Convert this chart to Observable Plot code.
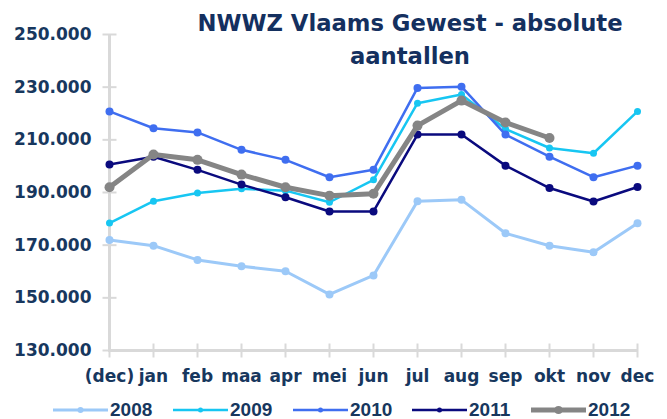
<!DOCTYPE html>
<html>
<head>
<meta charset="utf-8">
<script src="https://cdn.jsdelivr.net/npm/d3@7"></script>
<script src="https://cdn.jsdelivr.net/npm/@observablehq/plot@0.6"></script>
<style>
  html, body { margin: 0; padding: 0; background: #fff; }
  #wrap { position: relative; width: 667px; height: 419px; overflow: hidden; font-family: "DejaVu Sans", sans-serif; font-weight: bold; color: #17375E; }
  #chart { position: absolute; left: 0; top: 0; }
  #title { position: absolute; left: 160px; width: 500px; top: 7px; text-align: center; font-family: "DejaVu Sans", sans-serif; font-weight: bold; font-size: 22.7px; line-height: 33px; color: #14305F; }
  .leg { position: absolute; top: 400px; height: 19px; display: flex; align-items: center; font-family: "Liberation Sans", Arial, sans-serif; font-weight: 700; font-size: 19px; line-height: 19px; }
  .leg svg { margin-right: 2px; }
</style>
</head>
<body>
<div id="wrap">
  <div id="chart"></div>
  <div id="title">NWWZ Vlaams Gewest - absolute<br>aantallen</div>
  <div id="legend"></div>
</div>
<script>
const months = ["(dec)","jan","feb","maa","apr","mei","jun","jul","aug","sep","okt","nov","dec"];
const years = ["2008","2009","2010","2011","2012"];
const v2008 = [172000,169800,164400,162000,160100,151300,158500,186700,187200,174500,169800,167300,178300];
const v2009 = [178400,186700,189800,191400,190700,186300,194800,223900,227200,214100,206900,204900,220800];
const v2010 = [220800,214400,212800,206200,202400,195800,198600,229700,230200,212000,203600,195800,200200];
const v2011 = [200600,203600,198600,193000,188200,182800,182800,212000,212000,200200,191700,186600,192100];
const v2012 = [192000,204400,202400,196800,192000,188800,189500,215400,224900,216600,210700];
const yTicks = [130000,150000,170000,190000,210000,230000,250000];

const valuesByYear = {"2008": v2008, "2009": v2009, "2010": v2010, "2011": v2011, "2012": v2012};
const colors = {"2008": "#9CC9F8", "2009": "#17C6F2", "2010": "#3F6EF0", "2011": "#0A0A7E", "2012": "#858585"};
const widths = {"2008": 3, "2009": 2.5, "2010": 2.5, "2011": 2.5, "2012": 5};
const radii = {"2008": 4, "2009": 3.5, "2010": 4, "2011": 4, "2012": 5};
const legendRadii = {"2008": 3, "2009": 2.5, "2010": 2.5, "2011": 2.5, "2012": 4};

const rows = years.flatMap(y => valuesByYear[y].map((v, i) => ({year: y, month: months[i], value: v})));
const fmt = d => d3.format(",")(d).replace(/,/g, ".");

const hTick = {draw(ctx) { ctx.moveTo(-7, 0); ctx.lineTo(7, 0); }};
const vTick = {draw(ctx) { ctx.moveTo(0, -7); ctx.lineTo(0, 7); }};

const seriesMarks = years.flatMap(y => {
  const data = rows.filter(r => r.year === y);
  return [
    Plot.line(data, {x: "month", y: "value", stroke: colors[y], strokeWidth: widths[y]}),
    Plot.dot(data, {x: "month", y: "value", fill: colors[y], r: radii[y]})
  ];
});

const chart = Plot.plot({
  width: 667,
  height: 390,
  marginLeft: 108,
  marginRight: 30,
  marginTop: 34,
  marginBottom: 40,
  style: {fontFamily: "DejaVu Sans", fontWeight: "bold", fontSize: "17px", color: "#17375E", background: "transparent"},
  x: {type: "point", domain: months, padding: 0, tickSize: 0, tickPadding: 19, label: null},
  y: {domain: [130000, 250000], ticks: yTicks, tickFormat: fmt, tickSize: 0, tickPadding: 17, label: null},
  marks: [
    Plot.ruleX([months[0]], {stroke: "#D9D9D9", strokeWidth: 3}),
    Plot.ruleY([130000], {stroke: "#D9D9D9", strokeWidth: 3}),
    Plot.dot(yTicks, {x: () => months[0], y: d => d, symbol: hTick, stroke: "#D9D9D9", strokeWidth: 2, fill: "none"}),
    Plot.dot(months, {x: d => d, y: () => 130000, symbol: vTick, stroke: "#D9D9D9", strokeWidth: 2, fill: "none"}),
    ...seriesMarks
  ]
});
document.getElementById("chart").appendChild(chart);

const legendX = {"2008": 53, "2009": 173, "2010": 293, "2011": 412, "2012": 531};
const legend = document.getElementById("legend");
years.forEach(y => {
  const item = document.createElement("div");
  item.className = "leg";
  item.style.left = legendX[y] + "px";
  item.innerHTML = `<svg width="55" height="14"><line x1="0" x2="55" y1="7" y2="7" stroke="${colors[y]}" stroke-width="${widths[y]}"/><circle cx="27.5" cy="7" r="${legendRadii[y]}" fill="${colors[y]}"/></svg><span>${y}</span>`;
  legend.appendChild(item);
});
</script>
</body>
</html>
